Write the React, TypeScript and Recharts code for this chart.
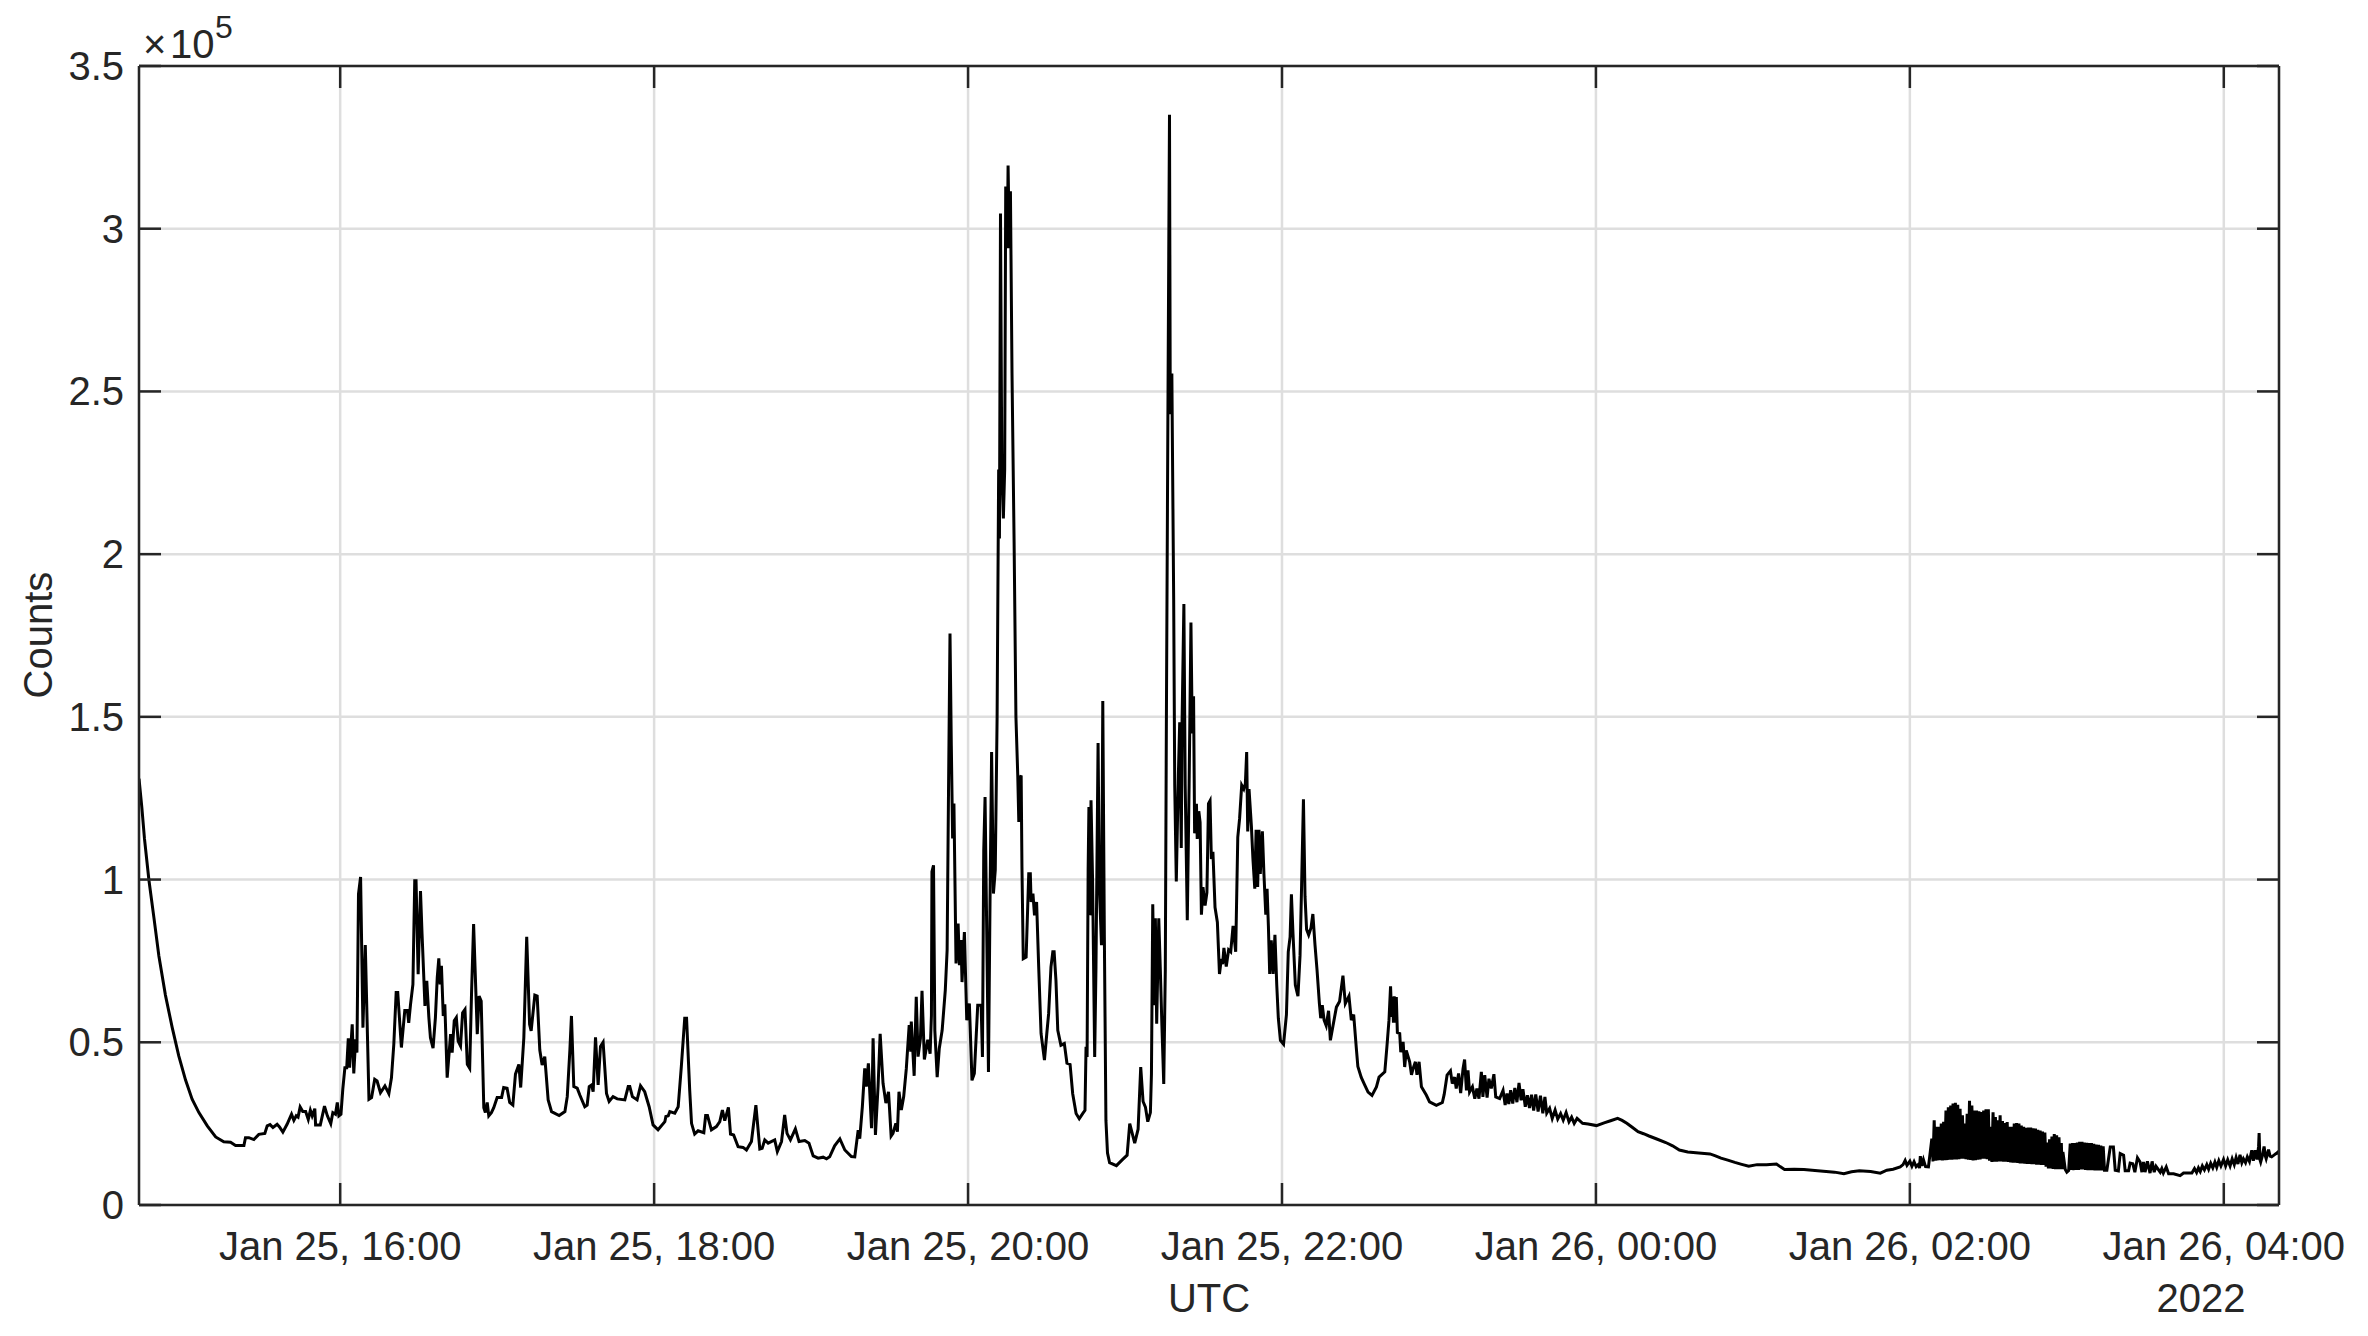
import React from "react";
import {
  LineChart,
  Line,
  XAxis,
  YAxis,
  CartesianGrid,
} from "recharts";

// every pair is [minutes after Jan 25 00:00 UTC, counts in thousands]
const decay = [
  [883.1,131],[884.2,122],[885.2,112.5],[886.9,99.8],[888.8,88.3],[890.7,76.5],[893.2,64.5],[895.8,54.5],[898.3,45.8],[900.9,38.4],
  [903.4,32.5],[906,28.4],[909.2,24.3],[912.4,20.9],[915.5,19.4],[918.1,19.3],[920,18.3],[923.2,18.3],[923.8,20.7],
  [925.1,20.7],[927,20.1],[928.9,21.7],[931.2,22],[932.1,24.3],[933.2,24.7],[934.3,23.8],[935.9,24.8],[936.8,24],
  [938.1,22.4],[939.7,24.8],[941.4,27.9],[942.3,26],[943.2,27.4],[943.9,27],[944.7,30.1],[945.7,28.7],[946.8,28.7],
  [947.8,26.3],[948.6,29.1],[949.3,27.4],[950.3,29.6],[950.6,24.6],[952.4,24.6],[954,30.4],[955.1,27.4],[956.4,25],
  [957.2,28.4],[958.2,27.9],[958.9,31.5],[959.5,27.4],
];
const burstsA = [
  [960.3,27.9],[961,35.6],[961.8,42.2],[962.5,42.2],[963.1,51.2],[963.6,42.2],[964.6,55.5],[965.2,40.4],[965.9,50.9],
  [966.4,46.8],[967,95.5],[967.8,100.8],[968.7,54.5],[969.6,79.9],[971,32.5],[972,33],[973.2,38.6],[974.1,38.1],
  [975.4,34.5],[977.1,36.6],[978.6,34.2],[979.6,39.1],[980.5,49.4],[981.4,65.3],[982,65.3],[983.4,48.4],[984.7,59.8],
  [985.7,59.8],[986.2,56],[986.9,61.7],[987.8,67.8],[988.5,99.6],[989,99.6],[989.8,70.9],[990.7,96.5],[991.3,83.2],
  [992.4,61.2],[993.1,68.9],[993.9,57.6],[994.5,51.4],[995.5,48.2],[996.4,57.6],[997.1,69.9],[997.7,75.8],[998.2,67.8],
  [998.7,73.5],[999.4,58.1],[1000,61.7],[1000.9,39.1],[1002.2,52.5],[1002.8,46.8],[1003.6,56.6],[1004.4,57.6],
  [1005.1,50.4],[1006,48.9],[1006.8,59.1],[1007.7,60.1],[1008.6,43.2],[1009.5,42],[1010.2,64.8],[1011,86.3],
  [1012.4,52.5],[1013.1,64.2],[1013.9,62.7],[1014.9,29.9],[1015.5,28.4],[1016.2,31.5],[1016.8,27.4],[1017.8,28.4],
  [1018.7,29.9],[1020,33],[1021.7,33],[1022.5,36.1],[1023.8,35.9],[1024.8,31.5],[1026,30.7],[1027,40.2],[1028.3,43.2],
  [1029,36.1],[1030.2,51.4],[1031.3,82.4],[1032.4,55.5],[1033,53.5],[1034.4,64.5],[1035.3,64.2],
];
const burstsB = [
  [1036.3,47.6],[1037.2,43],[1038.2,45.6],[1039.5,32.3],[1040.8,28.7],[1043.7,27.5],[1045.9,28.7],[1046.8,33.3],
  [1047.8,47.6],[1048.4,58.1],[1049.3,36.4],[1050.6,35.9],[1051.6,33.8],[1053.5,30.2],[1054.4,30.7],[1055.2,36.4],
  [1056.1,36.9],[1056.7,34.8],[1057.6,51.5],[1058.6,36.9],[1059.5,48.7],[1060.5,50],[1061.8,34.3],[1062.8,31.8],
  [1064.3,33.3],[1065.9,32.6],[1068.8,32.3],[1070.1,36.4],[1070.7,36.4],[1071.7,33.3],[1073.5,32.3],[1074.8,36.6],
  [1076.4,34.8],[1078.1,30.2],[1079.6,24.6],[1081.5,23.1],[1084.1,25.6],[1084.5,27.2],[1085.4,27.4],[1086,28.7],
  [1087.9,28.2],[1089.2,30.2],[1090.4,42.5],[1091.7,57.4],[1092.4,57.4],[1093.6,35.3],[1094.3,25.1],[1095.5,21.8],
  [1096.8,22.8],[1099,22.2],[1099.7,27.5],[1100.4,27.5],[1101.9,23.1],[1103.8,24.1],[1105.1,25.6],[1106.1,29.2],
  [1107,25.9],[1108.4,30],[1109.2,21.8],[1110.4,21.5],[1112.1,17.9],[1114,17.7],[1115.3,16.9],[1117.2,19.5],
  [1118.9,30.7],[1120.4,17.2],[1121.3,17.4],[1122.3,20],[1123.6,19],[1126.1,20],[1127.1,16.4],[1128.7,19.5],
  [1129.9,27.7],[1130.8,22],[1132.1,20],[1134,23.4],[1135.4,19.5],[1137.6,19.8],[1139.2,19],[1140.8,15.1],
  [1142.7,14.4],[1144.6,14.7],[1145.9,14.2],[1147.1,14.8],[1149,18.2],[1151,20.3],[1152.9,16.9],[1155.4,14.9],
  [1156.7,14.8],[1158,23],[1158.6,20.4],[1159.6,30.2],[1160.5,42],[1161.1,36.4],[1161.9,43.5],[1163.1,23.6],
  [1163.7,51.2],[1164.6,21.5],[1165.6,36.4],[1166.4,52.6],[1167.5,37.4],[1168.6,31.3],[1169.6,34.8],[1170.6,21.2],
  [1171.3,22],[1172.4,25.1],[1173,22.5],[1173.6,34.8],[1174.5,29.2],[1175.4,33.3],[1176.4,41.9],[1177.5,55.3],
  [1178.1,47.1],[1178.3,56.4],[1179.4,39.7],[1180.2,64],[1180.9,45.6],[1181.8,51.2],
];
const mainPeaks = [
  [1182.4,65.8],[1183.3,44.7],[1184.6,50.8],[1185.5,46.5],[1186,58.3],[1186.2,102.4],[1186.8,104.4],[1187.3,53.7],
  [1188.2,39.3],[1189,48.1],[1190.1,53.7],[1191.3,66],[1192,78.3],[1192.5,124.4],[1193.1,175.6],[1193.6,141.3],
  [1194.1,112.6],[1194.6,123.4],[1195.4,74.2],[1196.2,86.5],[1196.7,73.7],[1197.3,81.4],[1197.7,68.5],[1198.6,83.9],
  [1199.5,56.8],[1200.5,61.9],[1201.5,38.3],[1202.4,40.4],[1203.7,61.4],[1205,61.4],[1205.5,45.5],[1206,109],
  [1206.5,125.4],[1207.8,40.9],[1208.4,93.6],[1209,139.2],[1209.7,95.7],[1210.4,102.9],[1211.1,149.5],[1211.7,226],
  [1212,204.8],[1212.4,304.7],[1212.9,226],[1213.5,211],[1214,226],[1214.4,313],[1215,294],[1215.3,319.4],[1215.8,294],
  [1216.2,311.5],[1216.8,255.6],[1217.6,203.7],[1218.3,150],[1219,132],[1219.4,117.7],[1219.8,131],[1220.3,132],
  [1220.6,103.9],[1221.1,75.7],[1222.2,76.2],[1223.2,101.8],[1223.8,101.8],[1224.1,93.1],[1224.8,95.7],[1225.4,89],
  [1226.2,93.1],[1227,73.2],[1227.9,52.7],[1229.2,44.5],[1230.1,52.7],[1230.8,58.8],[1231.7,73.2],[1232.4,77.8],
  [1232.9,77.8],[1233.6,69],[1234.3,53.7],[1235.5,49.1],[1236.8,49.6],[1237.8,43.6],[1239,43.2],[1240,34.2],
  [1241.3,28.1],[1242.5,26.5],[1243.8,28.1],[1244.7,29.1],[1245.1,48.6],[1245.5,45.5],[1245.9,102.9],[1246.2,122.3],
  [1246.6,89],[1247,124.4],[1247.6,99.8],[1248.4,45.5],[1248.9,73.2],[1249.7,142],[1250.2,97.7],[1251,79.8],
  [1251.5,154.9],[1252.1,82.4],[1252.7,26],[1253.3,16],[1254.1,13],[1256.7,12.1],[1259.2,14.1],[1260.8,15.3],
  [1261.8,25],[1263.7,19],[1265,23.3],[1266,42.4],[1266.9,31.8],[1267.8,30.1],[1268.7,25.6],[1269.7,28.4],[1270.1,40.3],
  [1270.6,92.4],[1271.2,61.4],[1271.6,88.1],[1272.1,55.7],[1272.9,88.1],[1273.5,72.2],[1274.1,55.1],[1274.8,37.2],
  [1275.4,72.2],[1275.8,147],[1276.5,260],[1277,335],[1277.3,243],[1277.9,255.5],[1278.6,186],[1279,129],[1279.6,99.4],
  [1280.4,132.4],[1280.9,148.3],[1281.5,109.7],[1281.8,148],[1282.5,184.7],[1283,129],[1283.8,87.5],[1284.5,129],
  [1285.2,179],[1285.7,144.9],[1286.2,156.3],[1286.6,114.2],[1287.3,123.3],[1287.6,112.5],[1288.2,121],[1288.7,117.6],
  [1289.2,89.2],[1289.8,97.7],[1290.6,92],[1291.3,96],[1291.9,123.3],[1292.5,124.2],[1293,106.3],[1293.6,108.5],
  [1294.4,91.5],[1295.3,86.9],[1296.1,71],[1296.8,75.6],[1297.3,74],[1297.8,79],[1298.7,73.3],[1299.6,78.4],[1300.4,77.8],
];
const decline = [
  [1301.3,85.8],[1302.3,77.8],[1303.1,113],[1303.8,118.8],[1304.6,129],[1305.4,127.8],[1306,129.5],[1306.5,139.2],
  [1306.9,114.8],[1307.4,127.8],[1308.3,116.5],[1308.9,106.3],[1309.6,97.2],[1310.1,115.3],[1310.7,97.7],[1311.2,115.3],
  [1311.7,101.7],[1312.5,114.8],[1313.1,101.7],[1313.8,89.2],[1314.3,97.2],[1314.8,85.8],[1315.3,71],[1315.9,81.3],
  [1316.6,71],[1317.3,83],[1318,67.6],[1318.6,57.4],[1319.4,50.6],[1320.6,49.4],[1321.7,58.5],[1322.4,77.8],[1323.1,82.4],
  [1323.6,95.5],[1324.2,83.5],[1325.1,67.6],[1326.1,64.2],[1326.9,76.7],[1327.5,98.3],[1328.2,124.7],[1328.8,94.9],
  [1329.4,84.7],[1330.2,83],[1331.1,85.2],[1331.8,89.4],[1332.6,80.1],[1333.4,72.2],[1334.3,61.9],[1334.8,57.4],
  [1335.4,61.4],[1336.1,56.8],[1336.9,55.1],[1337.8,59.7],[1338.5,50.6],[1339.5,55.1],[1340.8,60.8],[1342,62.5],
  [1343.3,70.5],[1344.2,61.9],[1345.6,64.2],[1346.5,56.8],[1347.4,58.5],[1348.4,48.3],[1349,42.6],[1350.3,39.2],
  [1351.6,36.9],[1352.9,34.7],[1354.4,33.7],[1356.1,36.3],[1357.1,39.3],[1359.3,40.9],[1360.1,48.6],[1360.9,56.8],
  [1361.5,67.2],[1361.9,57.8],[1362.3,64],[1362.6,56],[1362.9,64.1],[1363.3,56],[1363.7,63.9],[1364.1,53],[1365,52.7],
  [1365.4,47],[1366.3,50.1],[1366.9,42.4],[1367.5,47.5],[1368.8,44],[1369.5,40],[1370.1,41.9],[1371,44],[1371.6,40],
  [1372.4,44],[1373.3,36.3],[1375.2,33.7],[1376.4,31.7],[1379,30.6],[1381.3,31.5],[1382,34],[1383.1,39.9],[1384.4,41.2],
  [1385.1,37.3],[1386,39.3],[1386.6,35.8],[1387.5,40.4],[1388.3,34.4],[1389.2,41.9],[1389.8,44.7],[1390.5,35.2],
  [1391.1,41.4],[1391.7,34.7],[1392.8,36.3],[1393.7,32.7],[1394.5,35.8],[1395.3,32.7],[1396.2,40.9],[1396.8,33.2],
  [1397.5,39.9],[1398.4,33],[1399.1,38.8],[1400,35.8],[1401,40.2],[1401.7,33.2],[1403.2,32.7],[1404.5,35.2],[1405.3,30.7],
  [1406,34.3],[1406.7,31],[1407.4,35.3],[1408.2,31.2],[1409,36],[1409.8,31.6],[1410.6,37.5],[1411.4,32.2],[1412.1,35.6],
  [1413,30.2],[1413.8,33.7],[1414.6,29.8],[1415.4,33.9],[1416.2,29],[1417,34],[1417.9,28.7],[1418.8,33.6],[1419.7,28.2],
  [1420.5,33.2],[1421.2,28.2],[1422.3,29.7],[1423.3,26.6],[1424.4,29.2],[1425.4,26.4],[1426.5,28.1],[1427.5,26.1],
  [1428.6,28.4],[1429.7,25.6],[1430.7,27],[1431.7,25.1],[1432.8,26.6],[1434.9,25.1],[1437,24.9],[1440.2,24.4],[1443.4,25.3],
];
const quiet = [
  [1445.6,25.9],[1448.3,26.6],[1450,26],[1451.8,25.1],[1454,23.8],[1456.1,22.5],[1458.2,21.9],[1460.3,21.2],[1463.5,20.2],
  [1466.7,19.2],[1469.3,18.2],[1471.9,16.9],[1475.1,16.3],[1479.3,16],[1483.6,15.7],[1485.7,15.1],[1487.8,14.4],[1490.4,13.8],
  [1493.1,13.1],[1495.7,12.5],[1498.4,11.9],[1501.6,12.4],[1505.2,12.4],[1509,12.6],[1510.4,11.8],[1512.1,10.9],[1515.8,11],
  [1519.5,10.9],[1523.7,10.6],[1528,10.3],[1531.2,10.1],[1534.8,9.6],[1537.7,10.2],[1540.7,10.5],[1545,10.3],[1548.7,9.8],
  [1551.2,10.7],[1553.6,11],[1556.3,11.7],[1557.4,12.4],[1558.2,13.7],[1558.9,12.2],[1560,13.5],[1560.8,11.9],[1561.6,13.3],
  [1562.4,11.8],[1563.3,12.5],[1563.7,11.3],[1564,15],[1564.6,12],[1565.2,13.9],[1566,11.8],[1567.1,11.7],[1567.8,16.3],
];
const denseBand = [
  [1568.4,20.4],[1568.85,13.4],[1569.3,26],[1569.75,13.6],[1570.2,24],[1570.65,13.7],[1571.1,24],[1571.55,13.8],[1572,25],
  [1572.45,13.7],[1572.9,25.6],[1573.35,13.8],[1573.8,29],[1574.25,13.8],[1574.7,30],[1575.15,13.9],[1575.6,30.6],[1576.05,13.9],
  [1576.5,31.2],[1576.95,14],[1577.4,31.4],[1577.85,14],[1578.3,30.8],[1578.75,14.1],[1579.2,29.6],[1579.65,14.2],[1580.1,27.6],
  [1580.55,14.2],[1581,25],[1581.45,14.1],[1581.9,28],[1582.35,13.9],[1582.8,32],[1583.25,13.8],[1583.7,30.6],[1584.15,13.7],
  [1584.6,29],[1585.05,13.8],[1585.5,29],[1585.95,13.9],[1586.4,28.8],[1586.85,14],[1587.3,28.6],[1587.75,14.2],[1588.2,29],
  [1588.65,14.2],[1589.1,29.4],[1589.55,14.1],[1590,29.4],[1590.45,13.6],[1590.9,24],[1591.35,13.2],[1591.8,28.5],[1592.25,13.3],
  [1592.7,27],[1593.15,13.3],[1593.6,26],[1594.05,13.4],[1594.5,27.6],[1594.95,13.4],[1595.4,25.8],[1595.85,13.3],[1596.3,25.2],
  [1596.75,13.3],[1597.2,25.5],[1597.65,13.2],[1598.1,24],[1598.55,13.1],[1599,24],[1599.45,13],[1599.9,25],[1600.35,13],
  [1600.8,25.2],[1601.25,12.9],[1601.7,25],[1602.15,12.8],[1602.6,24.4],[1603.05,12.8],[1603.5,24],[1603.95,12.7],[1604.4,23.7],
  [1604.85,12.6],[1605.3,23.8],[1605.75,12.6],[1606.2,23.8],[1606.65,12.5],[1607.1,23.6],[1607.55,12.5],[1608,23.5],[1608.45,12.4],
  [1608.9,23.1],[1609.35,12.4],[1609.8,22.9],[1610.25,12.3],[1610.7,22.6],[1611.15,12.3],[1611.6,22.3],[1612.05,11.8],[1612.5,19.2],
  [1612.95,11.2],[1613.4,20.2],[1613.85,11.2],[1614.3,21],[1614.75,11.1],[1615.2,21.8],[1615.65,11],[1616.1,21.4],[1616.55,11],
  [1617,20.8],[1617.45,11],[1617.9,19],[1618.2,11],[1618.5,16.3],[1619.4,10.9],[1620,10.1],[1620.7,10.6],[1621.3,18.9],
  [1621.75,10.8],[1622.2,19],[1622.65,10.7],[1623.1,19],[1623.55,10.8],[1624,19.2],[1624.45,10.8],[1624.9,19.4],[1625.35,10.9],
  [1625.8,19.4],[1626.25,10.9],[1626.7,19.2],[1627.15,10.8],[1627.6,19.1],[1628.05,10.7],[1628.5,19],[1628.95,10.7],[1629.4,19],
  [1629.85,10.7],[1630.3,18.8],[1630.75,10.6],[1631.2,18.6],[1631.65,10.6],[1632.1,18.5],[1632.55,10.6],[1633,18.3],[1633.45,10.6],
  [1633.9,18],[1634.4,10.7],[1635.3,10.7],[1636.6,17.8],[1637.8,17.8],[1638.5,10.7],
];
const endTail = [
  [1639.7,10.5],[1640.4,15.8],[1641.7,15.3],[1642.3,10.5],[1643.6,10.5],[1644.2,12.9],[1645.2,12.7],[1646,10.1],[1647,14.5],
  [1648,13.2],[1648.7,10.1],[1649.3,13.2],[1649.9,10.1],[1650.8,13.4],[1651.8,9.8],[1652.6,13.4],[1653.4,10.1],[1654.1,11.9],
  [1655.7,10.1],[1656.3,11.2],[1656.9,9.8],[1658,11.7],[1658.9,9.6],[1660.8,9.6],[1663.3,9],[1664.6,9.8],[1667.8,9.8],
  [1668.8,11.2],[1669.6,10],[1670.3,11.4],[1671,10.3],[1671.8,12],[1672.6,10.8],[1673.5,12.4],[1674.2,11],[1675,12.8],
  [1675.8,11.4],[1676.6,13.2],[1677.3,11.6],[1678.1,13.6],[1678.9,12],[1679.9,14],[1680.7,12],[1681.5,13.9],[1682.4,12],
  [1683.2,14.2],[1684,12.4],[1684.7,14.6],[1685.4,12.6],[1686.2,15.4],[1686.9,13],[1687.5,14.2],[1688.3,13],[1689,14.8],
  [1689.8,13.4],[1690.7,16.8],[1691.3,13.6],[1692,16.8],[1692.7,14],[1693.3,18],[1693.5,22.1],[1693.8,14],[1694.1,13.2],
  [1694.7,15],[1695.4,18],[1695.9,15],[1696.2,14.2],[1697.1,17],[1697.7,15],[1698.3,14.8],[1699.3,15.4],[1700,15.8],
  [1700.6,16.2],[1701.1,15.6],
];

const xTicks = [960, 1080, 1200, 1320, 1440, 1560, 1680];
const xLabels = [
  "Jan 25, 16:00",
  "Jan 25, 18:00",
  "Jan 25, 20:00",
  "Jan 25, 22:00",
  "Jan 26, 00:00",
  "Jan 26, 02:00",
  "Jan 26, 04:00",
];
const yTicks = [0, 50, 100, 150, 200, 250, 300, 350];
const yLabels = ["0", "0.5", "1", "1.5", "2", "2.5", "3", "3.5"];

const rows = [
  ...decay,
  ...burstsA,
  ...burstsB,
  ...mainPeaks,
  ...decline,
  ...quiet,
  ...denseBand,
  ...endTail,
].map(([minute, counts]) => ({ minute, counts }));

const WIDTH = 2368;
const HEIGHT = 1336;
const LEFT = 139;
const RIGHT = 2279;
const TOP = 66;
const BOTTOM = 1205;
const TICK = 22;
const INK = "#262626";
const FONT = "'Liberation Sans', Arial, sans-serif";

const BottomTick = ({ x, payload }: any) => (
  <g>
    <line x1={x} x2={x} y1={BOTTOM} y2={BOTTOM - TICK} stroke={INK} strokeWidth={2.5} />
    <text x={x} y={1260} textAnchor="middle" fontSize={40} fontFamily={FONT} fill={INK}>
      {xLabels[xTicks.indexOf(payload.value)]}
    </text>
  </g>
);

const TopTick = ({ x }: any) => (
  <line x1={x} x2={x} y1={TOP} y2={TOP + TICK} stroke={INK} strokeWidth={2.5} />
);

const LeftTick = ({ y, payload }: any) => (
  <g>
    <line x1={LEFT} x2={LEFT + TICK} y1={y} y2={y} stroke={INK} strokeWidth={2.5} />
    <text x={124} y={y + 14} textAnchor="end" fontSize={40} fontFamily={FONT} fill={INK}>
      {yLabels[yTicks.indexOf(payload.value)]}
    </text>
  </g>
);

const RightTick = ({ y }: any) => (
  <line x1={RIGHT} x2={RIGHT - TICK} y1={y} y2={y} stroke={INK} strokeWidth={2.5} />
);

const axisLine = { stroke: INK, strokeWidth: 2.5 };

export default function App() {
  return (
    <div
      style={{
        position: "absolute",
        left: 0,
        top: 0,
        width: WIDTH,
        height: HEIGHT,
        background: "#fff",
      }}
    >
      <LineChart
        width={WIDTH}
        height={HEIGHT}
        data={rows}
        margin={{ top: 0, right: 0, bottom: 0, left: 0 }}
      >
        <CartesianGrid stroke="#dedede" strokeWidth={2.5} />
        <XAxis
          dataKey="minute"
          type="number"
          domain={[883.1, 1701.1]}
          ticks={xTicks}
          interval={0}
          height={HEIGHT - BOTTOM}
          axisLine={axisLine}
          tickLine={false}
          tickMargin={0}
          tick={BottomTick}
          allowDataOverflow
        />
        <XAxis
          xAxisId="top"
          orientation="top"
          dataKey="minute"
          type="number"
          domain={[883.1, 1701.1]}
          ticks={xTicks}
          interval={0}
          height={TOP}
          axisLine={axisLine}
          tickLine={false}
          tick={TopTick}
          allowDataOverflow
        />
        <YAxis
          type="number"
          domain={[0, 350]}
          ticks={yTicks}
          interval={0}
          width={LEFT}
          axisLine={axisLine}
          tickLine={false}
          tick={LeftTick}
          allowDataOverflow
        />
        <YAxis
          yAxisId="right"
          orientation="right"
          type="number"
          domain={[0, 350]}
          ticks={yTicks}
          interval={0}
          width={WIDTH - RIGHT}
          axisLine={axisLine}
          tickLine={false}
          tick={RightTick}
          allowDataOverflow
        />
        <Line
          type="linear"
          dataKey="counts"
          stroke="#000"
          strokeWidth={3}
          dot={false}
          isAnimationActive={false}
        />
      </LineChart>
      <svg
        width={WIDTH}
        height={HEIGHT}
        style={{ position: "absolute", left: 0, top: 0, pointerEvents: "none" }}
        fontFamily={FONT}
        fill={INK}
      >
        <text x={143} y={58} fontSize={40}>×</text>
        <text x={170} y={58} fontSize={40}>10</text>
        <text x={215} y={38} fontSize={32}>5</text>
        <text x={1209} y={1312} fontSize={40} textAnchor="middle">UTC</text>
        <text x={2201} y={1312} fontSize={40} textAnchor="middle">2022</text>
        <text
          transform="translate(52 635) rotate(-90)"
          fontSize={40}
          textAnchor="middle"
        >
          Counts
        </text>
      </svg>
    </div>
  );
}
